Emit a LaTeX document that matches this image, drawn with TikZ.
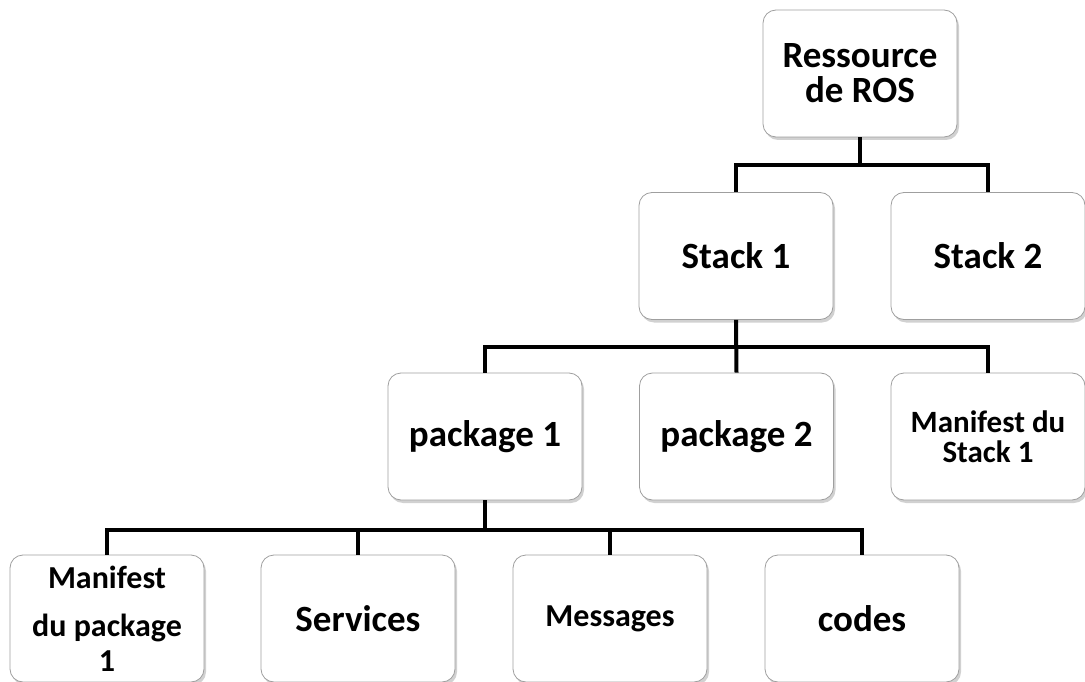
\documentclass[tikz,border=0pt]{standalone}
\usepackage{fontspec}
\setmainfont{Carlito}
\usetikzlibrary{shadows}
\tikzset{
  box/.style={draw=gray!75, line width=0.8pt, fill=white, rounded corners=13pt,
    minimum width=194pt, minimum height=127pt, align=center,
    font=\bfseries\fontsize{37}{35}\selectfont,
    drop shadow={shadow xshift=2pt, shadow yshift=-3pt, opacity=0.45, fill=gray!80}},
  smallbox/.style={box, font=\bfseries\fontsize{31}{30}\selectfont},
  midbox/.style={box, font=\bfseries\fontsize{32}{35}\selectfont},
  conn/.style={line width=4pt, black, line join=miter}
}
\begin{document}
\begin{tikzpicture}[x=1pt,y=-1pt]
\useasboundingbox (0,0) rectangle (1085,682);
\clip (0,0) rectangle (1085,682);
\fill[white] (0,0) rectangle (1085,682);
\coordinate (bus1) at (0,165);
\coordinate (bus2) at (0,347);
\coordinate (bus3) at (0,530);

\node[box] (root) at (860,73.5) {Ressource\\de ROS};
\node[box] (stack1) at (736,256) {Stack 1};
\node[box] (stack2) at (988,256) {Stack 2};
\node[box] (pkg1) at (485,436.5) {package 1};
\node[box] (pkg2) at (736.5,436.5) {package 2};
\node[smallbox] (man1) at (988,436.5) {Manifest du\\Stack 1};
\node[midbox] (manp) at (107,618.5) {Manifest\\[13pt]du package\\1};
\node[box] (serv) at (358,618.5) {Services};
\node[midbox] (msg) at (610,618.5) {Messages};
\node[box] (codes) at (862,618.5) {codes};

\draw[conn] (root.south) -- (root.south |- bus1);
\draw[conn] (stack1.north) -- (stack1.north |- bus1) -- (stack2.north |- bus1) -- (stack2.north);

\draw[conn] (stack1.south) -- (pkg2.north);
\draw[conn] (pkg1.north) -- (pkg1.north |- bus2) -- (man1.north |- bus2) -- (man1.north);

\draw[conn] (pkg1.south) -- (pkg1.south |- bus3);
\draw[conn] (manp.north) -- (manp.north |- bus3) -- (codes.north |- bus3) -- (codes.north);
\draw[conn] (serv.north) -- (serv.north |- bus3);
\draw[conn] (msg.north) -- (msg.north |- bus3);
\end{tikzpicture}
\end{document}
